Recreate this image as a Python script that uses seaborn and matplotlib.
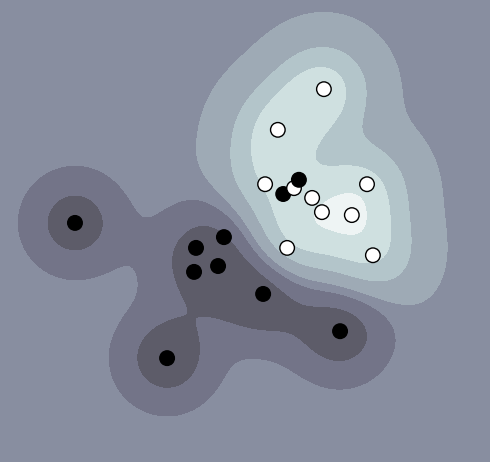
import numpy as np
import pandas as pd
import seaborn as sns
import matplotlib
matplotlib.use("Agg")
import matplotlib.pyplot as plt

# point positions (plot units), class and kernel weight
px = [1.53, 5.78, 6.61, 5.67, 5.41, 6.00, 6.10, 6.37, 6.57, 7.49, 7.18, 5.86, 7.61,
      4.00, 4.57, 3.96, 4.45, 5.37, 6.94, 3.41]
py = [4.88, 5.47, 7.61, 6.78, 5.67, 5.59, 5.76, 5.39, 5.10, 5.67, 5.04, 4.37, 4.22,
      4.37, 4.59, 3.88, 4.00, 3.43, 2.67, 2.12]
cls = ["black", "black", "white", "white", "white", "white", "black", "white", "white",
       "white", "white", "white", "white",
       "black", "black", "black", "black", "black", "black", "black"]
weight = [2.07, 0.8, 2.5, 2.2, 1.7, 1.0, 0.8, 0.7, 0.7, 1.7, 0.75, 2.0, 1.9,
          0.6, 0.8, 0.8, 0.5, 2.4, 2.2, 2.2]

gamma = 1.1
levels = [-9, -2.52, -1.45, -0.45, 0.17, 1.17, 2.17, 3.17, 9]
band_colors = ["#4c4a57", "#5d5c69", "#737488", "#888ea0",
               "#9eaab5", "#b3c5ca", "#cfe0e0", "#eef4f4"]

df = pd.DataFrame({"x": px, "y": py, "cls": cls, "w": weight})
sign = np.where(df["cls"] == "white", 1.0, -1.0)

gx, gy = np.meshgrid(np.linspace(0, 10, 500), np.linspace(0, 9.43, 472))
z = np.zeros_like(gx)
for xi, yi, wi, si in zip(df["x"], df["y"], df["w"], sign):
    z += si * wi * np.exp(-gamma * ((gx - xi) ** 2 + (gy - yi) ** 2))

fig = plt.figure(figsize=(4.9, 4.62), dpi=100)
ax = fig.add_axes([0, 0, 1, 1])
ax.contourf(gx, gy, z, levels=levels, colors=band_colors)
sns.scatterplot(data=df, x="x", y="y", hue="cls",
                palette={"black": "black", "white": "white"},
                edgecolor="black", linewidth=1, s=110, legend=False, ax=ax)
ax.set_xlim(0, 10)
ax.set_ylim(0, 9.43)
ax.axis("off")
fig.savefig("out.png", dpi=100)
